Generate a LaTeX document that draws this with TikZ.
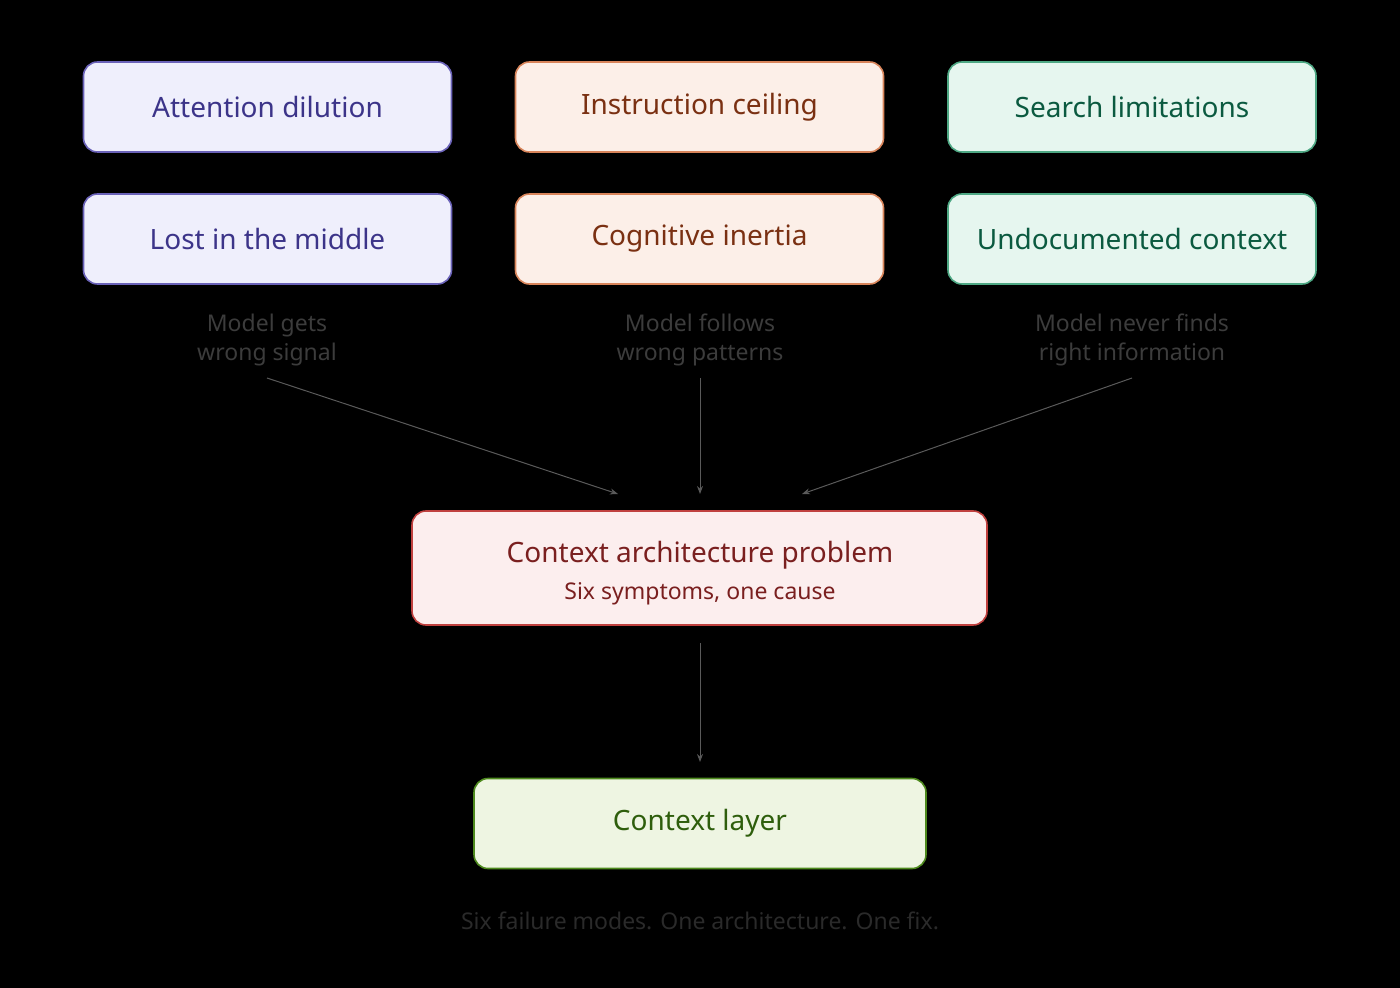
\documentclass[tikz,border=0pt]{standalone}
\usepackage{fontspec}
\setmainfont{Noto Sans}
\usetikzlibrary{arrows.meta}
\definecolor{pF}{HTML}{EFEFFC}\definecolor{pD}{HTML}{6A62B8}\definecolor{pT}{HTML}{3C3489}
\definecolor{oF}{HTML}{FCEFE8}\definecolor{oD}{HTML}{D8845A}\definecolor{oT}{HTML}{7A3012}
\definecolor{gF}{HTML}{E6F6EF}\definecolor{gD}{HTML}{4EA884}\definecolor{gT}{HTML}{0B5A40}
\definecolor{rF}{HTML}{FCEEEE}\definecolor{rD}{HTML}{C0413F}\definecolor{rT}{HTML}{7A1F1F}
\definecolor{lF}{HTML}{EEF5E2}\definecolor{lD}{HTML}{4E8A1E}\definecolor{lT}{HTML}{2E5E0C}
\definecolor{lbl}{HTML}{3C3C3C}\definecolor{foot}{HTML}{2A2A2A}\definecolor{arr}{HTML}{5A5A5A}
\begin{document}
\begin{tikzpicture}[x=0.5pt,y=-0.5pt,
 box/.style={draw=#1D,fill=#1F,text=#1T,rounded corners=7pt,line width=0.8pt,
   minimum width=184pt,minimum height=45pt,font=\fontsize{14}{16}\selectfont,inner sep=0pt},
 lab/.style={text=lbl,font=\fontsize{11.5}{14.5}\selectfont,align=center},
 ar/.style={draw=arr,line width=0.5pt,-{Stealth[length=4pt,width=3pt]}}]
\fill[black] (0,0) rectangle (1400,988);
\useasboundingbox (0,0) rectangle (1400,988);
\node[box=p] (a1) at (267.5,107) {Attention dilution};
\node[box=o] (b1) at (699.5,107) {Instruction ceiling};
\node[box=g] (c1) at (1132,107) {Search limitations};
\node[box=p] (a2) at (267.5,239) {Lost in the middle};
\node[box=o] (b2) at (699.5,239) {Cognitive inertia};
\node[box=g] (c2) at (1132,239) {Undocumented context};
\node[lab] (la) at (267,340) {Model gets\\wrong signal};
\node[lab] (lb) at (700,340) {Model follows\\wrong patterns};
\node[lab] (lc) at (1132,340) {Model never finds\\right information};
\node[box=r,minimum width=287.5pt,minimum height=57pt] (p) at (699.5,568) {};
\node[text=rT,font=\fontsize{14}{16}\selectfont] (pt) at (700,555) {Context architecture problem};
\node[text=rT,font=\fontsize{11.5}{14}\selectfont] (ps) at (700,594) {Six symptoms, one cause};
\node[box=l,minimum width=226pt] (cl) at (700,823.5) {Context layer};
\node[text=foot,font=\fontsize{11.5}{14}\selectfont] (ft) at (700,921) {Six failure modes. One architecture. One fix.};
\coordinate (e1) at (618,494); \coordinate (e2) at (700,494); \coordinate (e3) at (802,494);
\coordinate (s1) at (267,378); \coordinate (s2) at (700,378); \coordinate (s3) at (1132,378);
\draw[ar] (s1) -- (e1);
\draw[ar] (s2) -- (e2);
\draw[ar] (s3) -- (e3);
\coordinate (s4) at (700,643); \coordinate (e4) at (700,762);
\draw[ar] (s4) -- (e4);
\end{tikzpicture}
\end{document}
